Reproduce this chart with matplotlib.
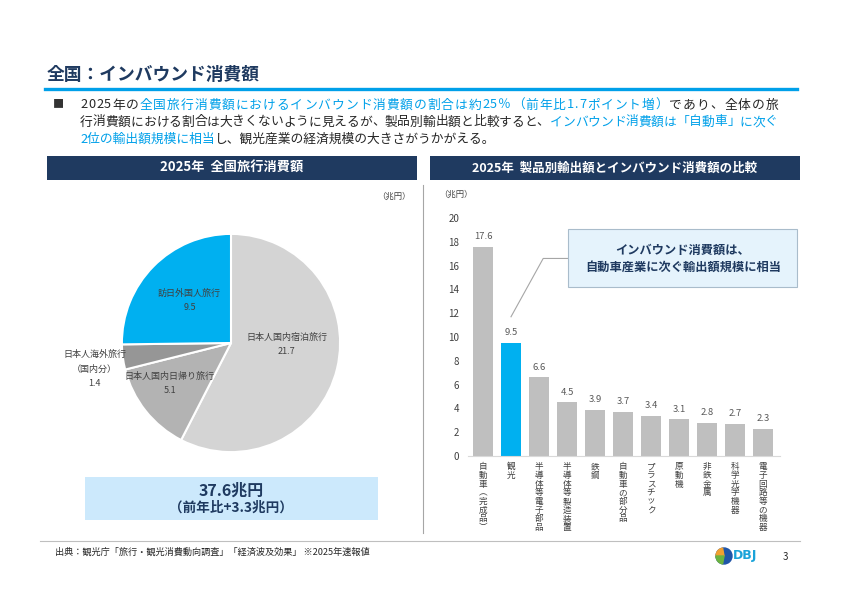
import numpy as np
import matplotlib
matplotlib.use("Agg")
import matplotlib.pyplot as plt
from matplotlib.patches import Rectangle, Circle, Wedge
from matplotlib.font_manager import FontProperties, findfont, get_font

plt.rcParams['font.family'] = ['Noto Sans CJK JP', 'DejaVu Sans']

# data
pie_labels = ['日本人国内宿泊旅行', '日本人国内日帰り旅行', '日本人海外旅行\n（国内分）', '訪日外国人旅行']
pie_values = [21.7, 5.1, 1.4, 9.5]
pie_colors = ['#d4d4d4', '#b3b3b3', '#969696', '#00b0f0']
total_text = '37.6兆円'
total_sub = '（前年比+3.3兆円）'

bar_labels = ['自動車︵完成品︶', '観光', '半導体等電子部品', '半導体等製造装置', '鉄鋼',
              '自動車の部分品', 'プラスチック', '原動機', '非鉄金属', '科学光学機器', '電子回路等の機器']
bar_values = [17.6, 9.5, 6.6, 4.5, 3.9, 3.7, 3.4, 3.1, 2.8, 2.7, 2.3]
highlight = 1
y_ticks = [0, 2, 4, 6, 8, 10, 12, 14, 16, 18, 20]

W, H = 842, 596
NAVY = '#1f3a60'
BLUE = '#00a0e9'
TXT = '#262626'

fig = plt.figure(figsize=(W / 100, H / 100), dpi=100)

def fx(x):
    return x / W

def fy(y):
    return 1 - y / H

# title + rule
fig.text(fx(47), fy(75), '全国：インバウンド消費額', fontsize=12.8, fontweight='bold',
         color=NAVY, va='center', ha='left')
fig.add_artist(plt.Line2D([fx(45), fx(797)], [fy(89.5), fy(89.5)], color=BLUE, lw=2.4))

# body text; justified lines are laid out char by char like the slide
BODY = 9.2
body_font = get_font(findfont(FontProperties(family='Noto Sans CJK JP')))
renderer = fig.canvas.get_renderer()

def advance(c):
    body_font.set_size(BODY, 100)
    return body_font.load_char(ord(c)).linearHoriAdvance / 65536

def rich_line(x0, base, parts, right=None):
    if right is None:
        x = x0
        for s, col in parts:
            t = fig.text(fx(x), fy(base), s, color=col, fontsize=BODY, va='baseline', ha='left')
            x += t.get_window_extent(renderer=renderer).width
        return
    chars = [(c, col) for s, col in parts for c in s]
    advs = [advance(c) for c, _ in chars]
    gap = (right - x0 - sum(advs)) / (len(chars) - 1)
    x = x0
    for (c, col), a in zip(chars, advs):
        fig.text(fx(x), fy(base), c, color=col, fontsize=BODY, va='baseline', ha='left')
        x += a + gap

fig.text(fx(58), fy(104), '■', fontsize=8, color='#333333', va='center', ha='center')
rich_line(80, 108.5, [('2025年の', TXT),
                      ('全国旅行消費額におけるインバウンド消費額の割合は約25％（前年比1.7ポイント増）', BLUE),
                      ('であり、全体の旅', TXT)], right=778)
rich_line(80, 125.5, [('行消費額における割合は大きくないように見えるが、製品別輸出額と比較すると、', TXT),
                      ('インバウンド消費額は「自動車」に次ぐ', BLUE)], right=778)
rich_line(80, 142.5, [('2位の輸出額規模に相当', BLUE),
                      ('し、観光産業の経済規模の大きさがうかがえる。', TXT)])

# panel headers
for x0, x1, s, fs in [(47, 417, '2025年  全国旅行消費額', 9.5),
                      (430, 800, '2025年  製品別輸出額とインバウンド消費額の比較', 9.0)]:
    fig.add_artist(Rectangle((fx(x0), fy(180)), fx(x1) - fx(x0), fy(156) - fy(180),
                             transform=fig.transFigure, color=NAVY, lw=0))
    fig.text(fx((x0 + x1) / 2), fy(168), s, fontsize=fs, fontweight='bold',
             color='white', va='center', ha='center')

# divider
fig.add_artist(plt.Line2D([fx(423), fx(423)], [fy(185), fy(533)], color='#a6a6a6', lw=0.8))

fig.text(fx(394), fy(196), '（兆円）', fontsize=6, color='#404040', va='center', ha='center')

# pie
ax_pie = fig.add_axes([fx(111), fy(463), 240 / W, 240 / H])
ax_pie.pie(pie_values, colors=pie_colors, startangle=90, counterclock=False,
           wedgeprops=dict(edgecolor='white', linewidth=1.5))
ax_pie.set_xlim(-1.1, 1.1)
ax_pie.set_ylim(-1.1, 1.1)
ax_pie.set_aspect('equal')
ax_pie.axis('off')
pie_text_pos = [(0.51, -0.01), (-0.56, -0.37), (-1.25, -0.24), (-0.38, 0.39)]
for lab, v, (px, py) in zip(pie_labels, pie_values, pie_text_pos):
    ax_pie.text(px, py, f'{lab}\n{v}', fontsize=6.5, color='#404040',
                ha='center', va='center', linespacing=1.75, clip_on=False)

# total box
fig.add_artist(Rectangle((fx(85), fy(520)), fx(378) - fx(85), fy(477) - fy(520),
                         transform=fig.transFigure, color='#cce9fc', lw=0))
fig.text(fx(231), fy(491), total_text, fontsize=11.5, fontweight='bold', color=NAVY,
         va='center', ha='center')
fig.text(fx(231), fy(508), total_sub, fontsize=9.8, fontweight='bold', color=NAVY,
         va='center', ha='center')

# bar chart
ax = fig.add_axes([fx(469), fy(456), 308 / W, (456 - 218) / H])
x = np.arange(len(bar_values))
cols = ['#00b0f0' if i == highlight else '#bfbfbf' for i in x]
ax.bar(x, bar_values, width=0.71, color=cols)
ax.set_xlim(-0.5, 10.5)
ax.set_ylim(0, 20)
ax.set_yticks(y_ticks)
ax.tick_params(axis='y', length=0, labelsize=7, labelcolor='#404040', pad=7)
ax.set_xticks([])
for sp in ['top', 'right', 'left']:
    ax.spines[sp].set_visible(False)
ax.spines['bottom'].set_color('#d9d9d9')
ax.spines['bottom'].set_bounds(-0.55, 10.6)
for i, v in zip(x, bar_values):
    ax.annotate(f'{v}', (i, v), xytext=(0, 4), textcoords='offset points',
                ha='center', va='bottom', fontsize=6.8, color='#595959')
for i, lab in zip(x, bar_labels):
    ax.annotate('\n'.join(lab), (i, 0), xytext=(0, -4.5), textcoords='offset points',
                ha='center', va='top', fontsize=6.2, color='#404040', linespacing=0.95)

fig.text(fx(456), fy(194), '（兆円）', fontsize=6, color='#404040', va='center', ha='center')

# callout
fig.add_artist(Rectangle((fx(568), fy(287)), fx(797) - fx(568), fy(229) - fy(287),
                         transform=fig.transFigure, facecolor='#e5f3fc',
                         edgecolor='#a9bccb', lw=0.8))
fig.text(fx(683), fy(250), 'インバウンド消費額は、', fontsize=8.8, fontweight='bold',
         color=NAVY, va='center', ha='center')
fig.text(fx(683), fy(267), '自動車産業に次ぐ輸出額規模に相当', fontsize=8.8, fontweight='bold',
         color=NAVY, va='center', ha='center')
ax.plot([1.0, 2.15, 3.05], [bar_values[highlight] + 2.2, 16.6, 16.6], color='#a6a6a6',
        lw=0.8, clip_on=False)

# footer
fig.add_artist(plt.Line2D([fx(40), fx(800)], [fy(541), fy(541)], color='#bfbfbf', lw=0.8))
fig.text(fx(55), fy(552), '出典：観光庁「旅行・観光消費動向調査」「経済波及効果」 ※2025年速報値',
         fontsize=6.6, color=TXT, va='center', ha='left')

ax_logo = fig.add_axes([fx(714), fy(566), 20 / W, 20 / H])
ax_logo.add_patch(Circle((0, 0), 0.8, color='#1f55a8'))
ax_logo.add_patch(Wedge((0, 0), 0.8, 100, 180, color='#f0a030'))
ax_logo.add_patch(Wedge((0, 0), 0.8, 180, 260, color='#6cb33f'))
ax_logo.set_xlim(-1, 1)
ax_logo.set_ylim(-1, 1)
ax_logo.axis('off')
fig.text(fx(733), fy(556), 'DBJ', fontsize=9, fontweight='bold', color='#1aa3d9',
         va='center', ha='left', family='DejaVu Sans')
fig.text(fx(785), fy(557), '3', fontsize=7, color=TXT, va='center', ha='center')

fig.savefig('out.png', dpi=100)
